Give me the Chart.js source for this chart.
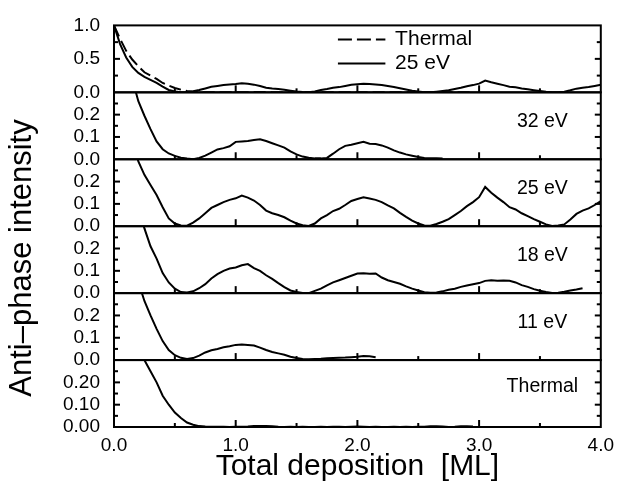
<!DOCTYPE html>
<html>
<head>
<meta charset="utf-8">
<script src="https://cdn.jsdelivr.net/npm/chart.js@4.4.1/dist/chart.umd.min.js"></script>
<style>
  html, body { margin: 0; padding: 0; background: #fff; }
  .chart__body { width: 621px; height: 487px; }
</style>
</head>
<body>
<div class="chart__body"><canvas id="myChart"></canvas></div>
<script>
// Общая ось X: толщина покрытия, ML (шаг 0.05)
const deposition = [
  0.0, 0.05, 0.1, 0.15, 0.2, 0.25, 0.3, 0.35, 0.4, 0.45,
  0.5, 0.55, 0.6, 0.65, 0.7, 0.75, 0.8, 0.85, 0.9, 0.95,
  1.0, 1.05, 1.1, 1.15, 1.2, 1.25, 1.3, 1.35, 1.4, 1.45,
  1.5, 1.55, 1.6, 1.65, 1.7, 1.75, 1.8, 1.85, 1.9, 1.95,
  2.0, 2.05, 2.1, 2.15, 2.2, 2.25, 2.3, 2.35, 2.4, 2.45,
  2.5, 2.55, 2.6, 2.65, 2.7, 2.75, 2.8, 2.85, 2.9, 2.95,
  3.0, 3.05, 3.1, 3.15, 3.2, 3.25, 3.3, 3.35, 3.4, 3.45,
  3.5, 3.55, 3.6, 3.65, 3.7, 3.75, 3.8, 3.85, 3.9, 3.95, 4.0,
];

// Интенсивность по сериям
const thermal = [
  1.0, 0.8, 0.62, 0.49, 0.39, 0.3, 0.25, 0.2, 0.14, 0.1,
  0.065, 0.04, 0.02, 0.01, 0.004, 0.002, 0.001, 0.001, 0.001, 0.0,
  0.001, 0.001, 0.002, 0.004, 0.004, 0.005, 0.003, 0.001, 0.0, 0.001,
  0.0, 0.001, 0.0, 0.0, 0.001, 0.0, 0.001, 0.001, 0.0, 0.001,
  0.002, 0.001, 0.0, 0.001, 0.0, 0.0, 0.001, 0.0, 0.001, 0.0,
  0.001, 0.001, 0.003, 0.003, 0.002, 0.0, 0.001, 0.003, 0.003, 0.002,
];
const ev11 = [
  1.0, 0.78, 0.6, 0.46, 0.35, 0.265, 0.2, 0.14, 0.085, 0.045,
  0.022, 0.01, 0.005, 0.009, 0.02, 0.034, 0.044, 0.05, 0.057, 0.062,
  0.068, 0.07, 0.068, 0.065, 0.056, 0.045, 0.036, 0.03, 0.024, 0.015,
  0.009, 0.005, 0.004, 0.005, 0.006, 0.008, 0.009, 0.01, 0.011, 0.013,
  0.015, 0.018, 0.017, 0.013,
];
const ev18 = [
  1.0, 0.8, 0.62, 0.5, 0.39, 0.29, 0.21, 0.155, 0.09, 0.048,
  0.02, 0.005, 0.003, 0.008, 0.022, 0.04, 0.066, 0.085, 0.1, 0.11,
  0.115, 0.125, 0.13, 0.112, 0.1, 0.08, 0.064, 0.045, 0.027, 0.012,
  0.005, 0.001, 0.0, 0.01, 0.02, 0.035, 0.048, 0.058, 0.068, 0.078,
  0.088, 0.089, 0.087, 0.088, 0.07, 0.058, 0.05, 0.042, 0.03, 0.02,
  0.012, 0.004, 0.002, 0.003, 0.008, 0.015, 0.02, 0.028, 0.034, 0.04,
  0.045, 0.055, 0.058, 0.056, 0.057, 0.055, 0.048, 0.036, 0.028, 0.018,
  0.011, 0.005, 0.001, 0.002, 0.006, 0.012, 0.016, 0.022,
];
const ev25 = [
  1.0, 0.72, 0.52, 0.38, 0.29, 0.23, 0.185, 0.14, 0.085, 0.035,
  0.012, 0.003, 0.002, 0.016, 0.035, 0.058, 0.082, 0.095, 0.108, 0.118,
  0.125, 0.137, 0.128, 0.115, 0.095, 0.07, 0.058, 0.05, 0.04, 0.025,
  0.012, 0.004, 0.001, 0.012, 0.035, 0.05, 0.068, 0.078, 0.095, 0.113,
  0.122, 0.13, 0.124, 0.118, 0.108, 0.093, 0.08, 0.06, 0.042, 0.025,
  0.012, 0.003, 0.002, 0.01, 0.02, 0.032, 0.05, 0.068, 0.09, 0.108,
  0.13, 0.176, 0.15, 0.128, 0.108, 0.085, 0.075, 0.058, 0.045, 0.032,
  0.02, 0.008, 0.001, 0.003, 0.008, 0.03, 0.055, 0.07, 0.08, 0.095, 0.112,
];
const ev32 = [
  1.0, 0.75, 0.52, 0.36, 0.26, 0.195, 0.135, 0.08, 0.045, 0.026,
  0.015, 0.007, 0.003, 0.0, 0.006, 0.016, 0.03, 0.044, 0.05, 0.058,
  0.078, 0.08, 0.082, 0.086, 0.09, 0.082, 0.072, 0.062, 0.052, 0.035,
  0.022, 0.012, 0.007, 0.004, 0.004, 0.006, 0.025, 0.045, 0.06, 0.065,
  0.072, 0.078, 0.07, 0.068, 0.062, 0.052, 0.04, 0.03, 0.022, 0.016,
  0.01, 0.006, 0.005, 0.004, 0.003,
];

// Подписи панелей (сверху вниз, без верхней панели-сравнения)
const panelLabels = ["32 eV", "25 eV", "18 eV", "11 eV", "Thermal"];
const legendLabels = ["Thermal", "25 eV"];
const xTickLabels = ["0.0", "1.0", "2.0", "3.0", "4.0"];

const FONT = "'Liberation Sans', Arial, Helvetica, sans-serif";
const panelIds = ["yTop", "y32", "y25", "y18", "y11", "yTh"];

function toPoints(values) {
  return values.map((v, i) => ({ x: deposition[i], y: v }));
}

function lineSet(label, values, axis, dashed) {
  return {
    label: label,
    data: toPoints(values),
    yAxisID: axis,
    borderColor: "#000",
    borderWidth: 2,
    borderDash: dashed ? [12, 5] : [],
    pointRadius: 0,
    tension: 0,
    fill: false,
  };
}

// setup
const data = {
  datasets: [
    lineSet("Thermal", thermal, "yTop", true),
    lineSet("25 eV", ev25, "yTop", false),
    lineSet("32 eV", ev32, "y32", false),
    lineSet("25 eV", ev25, "y25", false),
    lineSet("18 eV", ev18, "y18", false),
    lineSet("11 eV", ev11, "y11", false),
    lineSet("Thermal", thermal, "yTh", false),
  ],
};

function isTenth(v) {
  return Math.abs(v * 10 - Math.round(v * 10)) < 1e-6;
}

function yAxis(max, step, labelFn) {
  return {
    type: "linear",
    position: "left",
    stack: "panels",
    stackWeight: 1,
    min: 0,
    max: max,
    afterFit: (s) => { s.width = 114; },
    grid: { display: false, drawTicks: false },
    border: { display: false },
    ticks: {
      stepSize: step,
      autoSkip: false,
      padding: 14,
      color: "#000",
      font: { family: FONT, size: 19 },
      callback: labelFn,
    },
  };
}

const smallLabel = (v) => (isTenth(v) && v < 0.25 ? v.toFixed(1) : "");

// Рамки панелей и внутренние засечки
const framePlugin = {
  id: "framePlugin",
  afterDatasetsDraw(chart) {
    const { ctx, chartArea, scales } = chart;
    const xs = scales.x;
    ctx.save();
    ctx.strokeStyle = "#000";
    ctx.lineWidth = 2;
    const seg = (x1, y1, x2, y2) => {
      ctx.beginPath();
      ctx.moveTo(x1, y1);
      ctx.lineTo(x2, y2);
      ctx.stroke();
    };
    panelIds.forEach((id) => {
      const ys = scales[id];
      ys.ticks.forEach((t) => {
        if (t.value <= ys.min + 1e-9 || t.value >= ys.max - 1e-9) return;
        const py = ys.getPixelForValue(t.value);
        const len = t.label ? 6 : 4;
        seg(chartArea.left, py, chartArea.left + len, py);
        seg(chartArea.right, py, chartArea.right - len, py);
      });
      xs.ticks.forEach((t) => {
        if (t.value <= xs.min || t.value >= xs.max) return;
        const px = xs.getPixelForValue(t.value);
        const len = Number.isInteger(t.value) ? 7 : 4;
        seg(px, ys.bottom, px, ys.bottom - len);
      });
      ctx.strokeRect(chartArea.left, ys.top, chartArea.right - chartArea.left, ys.bottom - ys.top);
    });
    ctx.restore();
  },
  afterDraw(chart) {
    const { ctx, scales } = chart;
    const xs = scales.x;
    ctx.save();
    ctx.fillStyle = "#000";
    ctx.strokeStyle = "#000";

    // подписи панелей
    ctx.font = "19.5px " + FONT;
    ctx.textAlign = "center";
    ctx.textBaseline = "middle";
    panelLabels.forEach((txt, i) => {
      const ys = scales[panelIds[i + 1]];
      const yv = txt === "Thermal" ? 0.18 : 0.17;
      ctx.fillText(txt, xs.getPixelForValue(3.52), ys.getPixelForValue(yv));
    });

    // легенда в верхней панели
    const yt = scales.yTop;
    const lx1 = xs.getPixelForValue(1.84);
    const lx2 = xs.getPixelForValue(2.23);
    const rows = [0.79, 0.43];
    ctx.lineWidth = 2;
    rows.forEach((rv, i) => {
      const py = yt.getPixelForValue(rv);
      ctx.setLineDash(i === 0 ? [14, 5] : []);
      ctx.beginPath();
      ctx.moveTo(lx1, py);
      ctx.lineTo(lx2, py);
      ctx.stroke();
      ctx.setLineDash([]);
      ctx.font = "21px " + FONT;
      ctx.textAlign = "left";
      ctx.fillText(legendLabels[i], xs.getPixelForValue(2.31), py);
    });

    // общая подпись оси Y
    ctx.translate(22, 258);
    ctx.rotate(-Math.PI / 2);
    ctx.font = "31px " + FONT;
    ctx.textAlign = "center";
    ctx.fillText("Anti\u2013phase intensity", 0, 0);
    ctx.restore();
  },
};

// config
const config = {
  type: "line",
  data,
  options: {
    animation: false,
    responsive: true,
    maintainAspectRatio: false,
    layout: { padding: { left: 0, top: 14, right: 15, bottom: 0 } },
    scales: {
      x: {
        type: "linear",
        position: "bottom",
        min: 0,
        max: 4,
        afterFit: (s) => { s.height = 60; },
        grid: { display: false, drawTicks: false },
        border: { display: false },
        ticks: {
          stepSize: 0.5,
          autoSkip: false,
          maxRotation: 0,
          padding: 7,
          color: "#000",
          font: { family: FONT, size: 19 },
          callback: (v) => (Number.isInteger(v) ? xTickLabels[v] : ""),
        },
        title: {
          display: true,
          text: "Total deposition  [ML]",
          color: "#000",
          font: { family: FONT, size: 30 },
          padding: { top: 0, bottom: 2 },
        },
      },
      // верхняя панель добавляется последней — левые оси укладываются в обратном порядке
      yTh: yAxis(0.3, 0.05, (v) => (isTenth(v) && v < 0.25 ? v.toFixed(2) : "")),
      y11: yAxis(0.3, 0.05, smallLabel),
      y18: yAxis(0.3, 0.05, smallLabel),
      y25: yAxis(0.3, 0.05, smallLabel),
      y32: yAxis(0.3, 0.05, smallLabel),
      yTop: yAxis(1.0, 0.25, (v) => (v === 0 || v === 0.5 || v === 1 ? v.toFixed(1) : "")),
    },
    plugins: {
      legend: { display: false },
      tooltip: { enabled: false },
    },
  },
  plugins: [framePlugin],
};

// render init block
const myChart = new Chart(document.getElementById("myChart"), config);
</script>
</body>
</html>
